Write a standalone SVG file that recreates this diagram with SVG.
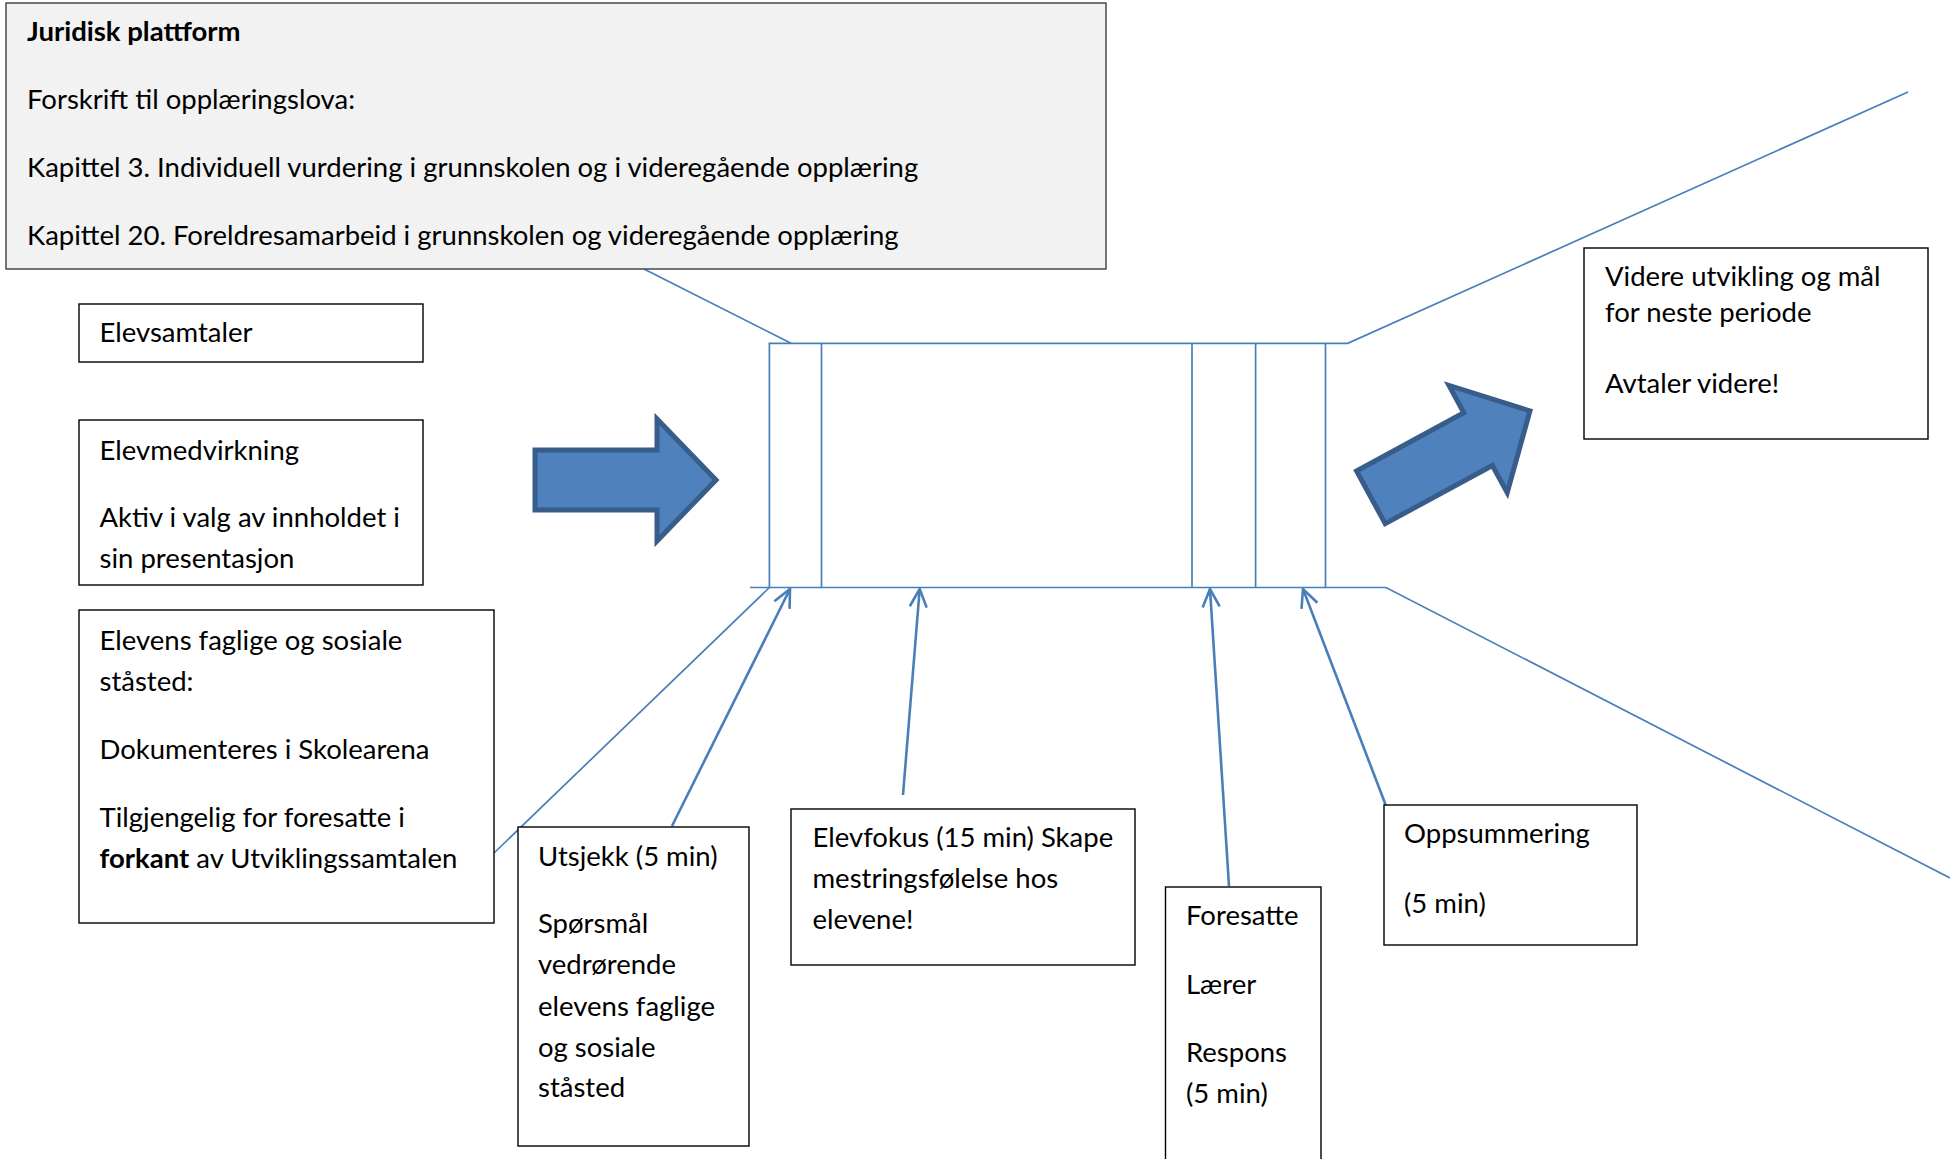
<svg xmlns="http://www.w3.org/2000/svg" width="1950" height="1159" viewBox="0 0 1950 1159">
<defs>
<style>
.box{fill:#ffffff;stroke:#000000;stroke-width:1.4}
.jur{fill:#f2f2f2;stroke:#3c3c3c;stroke-width:1.4}
.ln{fill:none;stroke:#4a7ebb;stroke-width:1.7}
.arr{fill:none;stroke:#4a7ebb;stroke-width:2.6}
.blk{fill:#4f81bd;stroke:#385d8a;stroke-width:5;stroke-linejoin:miter}
text{font-family:Lato,"Open Sans",sans-serif;font-size:27.5px;fill:#000000}
.b{font-weight:bold}
</style>
<marker id="open" viewBox="-20 -11 22 22" markerWidth="22" markerHeight="22" refX="0" refY="0" orient="auto" markerUnits="userSpaceOnUse">
<path d="M-18,-8.5 L0,0 L-18,8.5" fill="none" stroke="#4a7ebb" stroke-width="2.6"/>
</marker>
<path id="blockarrow" d="M0,-30 L122,-30 L122,-61 L181,0 L122,61 L122,30 L0,30 Z"/>
</defs>

<g id="connectors">
<line class="ln" x1="644" y1="269" x2="791" y2="343.3"/>
<polyline class="ln" points="769.4,587.5 769.4,343.3 1347.7,343.3 1908,92"/>
<line class="ln" x1="821.5" y1="343.3" x2="821.5" y2="587.5"/>
<line class="ln" x1="1192" y1="343.3" x2="1192" y2="587.5"/>
<line class="ln" x1="1255.6" y1="343.3" x2="1255.6" y2="587.5"/>
<line class="ln" x1="1325.5" y1="343.3" x2="1325.5" y2="587.5"/>
<polyline class="ln" points="750,587.5 1386,587.5 1950,878"/>
<line class="ln" x1="769.4" y1="587.5" x2="494" y2="853"/>
<line class="arr" x1="672" y1="826" x2="790" y2="589" marker-end="url(#open)"/>
<line class="arr" x1="903" y1="795" x2="919.7" y2="589" marker-end="url(#open)"/>
<line class="arr" x1="1229" y1="886" x2="1210" y2="589" marker-end="url(#open)"/>
<line class="arr" x1="1385.7" y1="805" x2="1303" y2="589" marker-end="url(#open)"/>
<use href="#blockarrow" class="blk" transform="translate(535,480)"/>
<use href="#blockarrow" class="blk" transform="translate(1370.9,497.3) rotate(-28.5)"/>
</g>

<g id="juridisk">
<rect class="jur" x="6" y="3" width="1100" height="266"/>
<text class="b" x="27" y="41">Juridisk plattform</text>
<text x="27" y="109">Forskrift til opplæringslova:</text>
<text x="27" y="177">Kapittel 3. Individuell vurdering i grunnskolen og i videregående opplæring</text>
<text x="27" y="245">Kapittel 20. Foreldresamarbeid i grunnskolen og videregående opplæring</text>
</g>

<g id="elevsamtaler">
<rect class="box" x="79" y="304" width="344" height="58"/>
<text x="99.5" y="342">Elevsamtaler</text>
</g>

<g id="elevmedvirkning">
<rect class="box" x="79" y="420" width="344" height="165"/>
<text x="99.5" y="460">Elevmedvirkning</text>
<text x="99.5" y="527">Aktiv i valg av innholdet i</text>
<text x="99.5" y="568">sin presentasjon</text>
</g>

<g id="elevens">
<rect class="box" x="79" y="610" width="415" height="313"/>
<text x="99.5" y="650">Elevens faglige og sosiale</text>
<text x="99.5" y="691">ståsted:</text>
<text x="99.5" y="759">Dokumenteres i Skolearena</text>
<text x="99.5" y="827">Tilgjengelig for foresatte i</text>
<text x="99.5" y="868"><tspan class="b">forkant</tspan> av Utviklingssamtalen</text>
</g>

<g id="videre">
<rect class="box" x="1584" y="248" width="344" height="191"/>
<text x="1605" y="286">Videre utvikling og mål</text>
<text x="1605" y="322">for neste periode</text>
<text x="1605" y="393">Avtaler videre!</text>
</g>

<g id="utsjekk">
<rect class="box" x="518" y="827" width="231" height="319"/>
<text x="538" y="866">Utsjekk (5 min)</text>
<text x="538" y="933">Spørsmål</text>
<text x="538" y="974">vedrørende</text>
<text x="538" y="1016">elevens faglige</text>
<text x="538" y="1057">og sosiale</text>
<text x="538" y="1097">ståsted</text>
</g>

<g id="elevfokus">
<rect class="box" x="791" y="809" width="344" height="156"/>
<text x="812.5" y="847">Elevfokus (15 min) Skape</text>
<text x="812.5" y="888">mestringsfølelse hos</text>
<text x="812.5" y="929">elevene!</text>
</g>

<g id="foresatte">
<rect class="box" x="1165.5" y="887" width="155.5" height="290"/>
<text x="1186" y="925">Foresatte</text>
<text x="1186" y="994">Lærer</text>
<text x="1186" y="1062">Respons</text>
<text x="1186" y="1103">(5 min)</text>
</g>

<g id="oppsummering">
<rect class="box" x="1384" y="805" width="253" height="140"/>
<text x="1404" y="843">Oppsummering</text>
<text x="1404" y="913">(5 min)</text>
</g>
</svg>
